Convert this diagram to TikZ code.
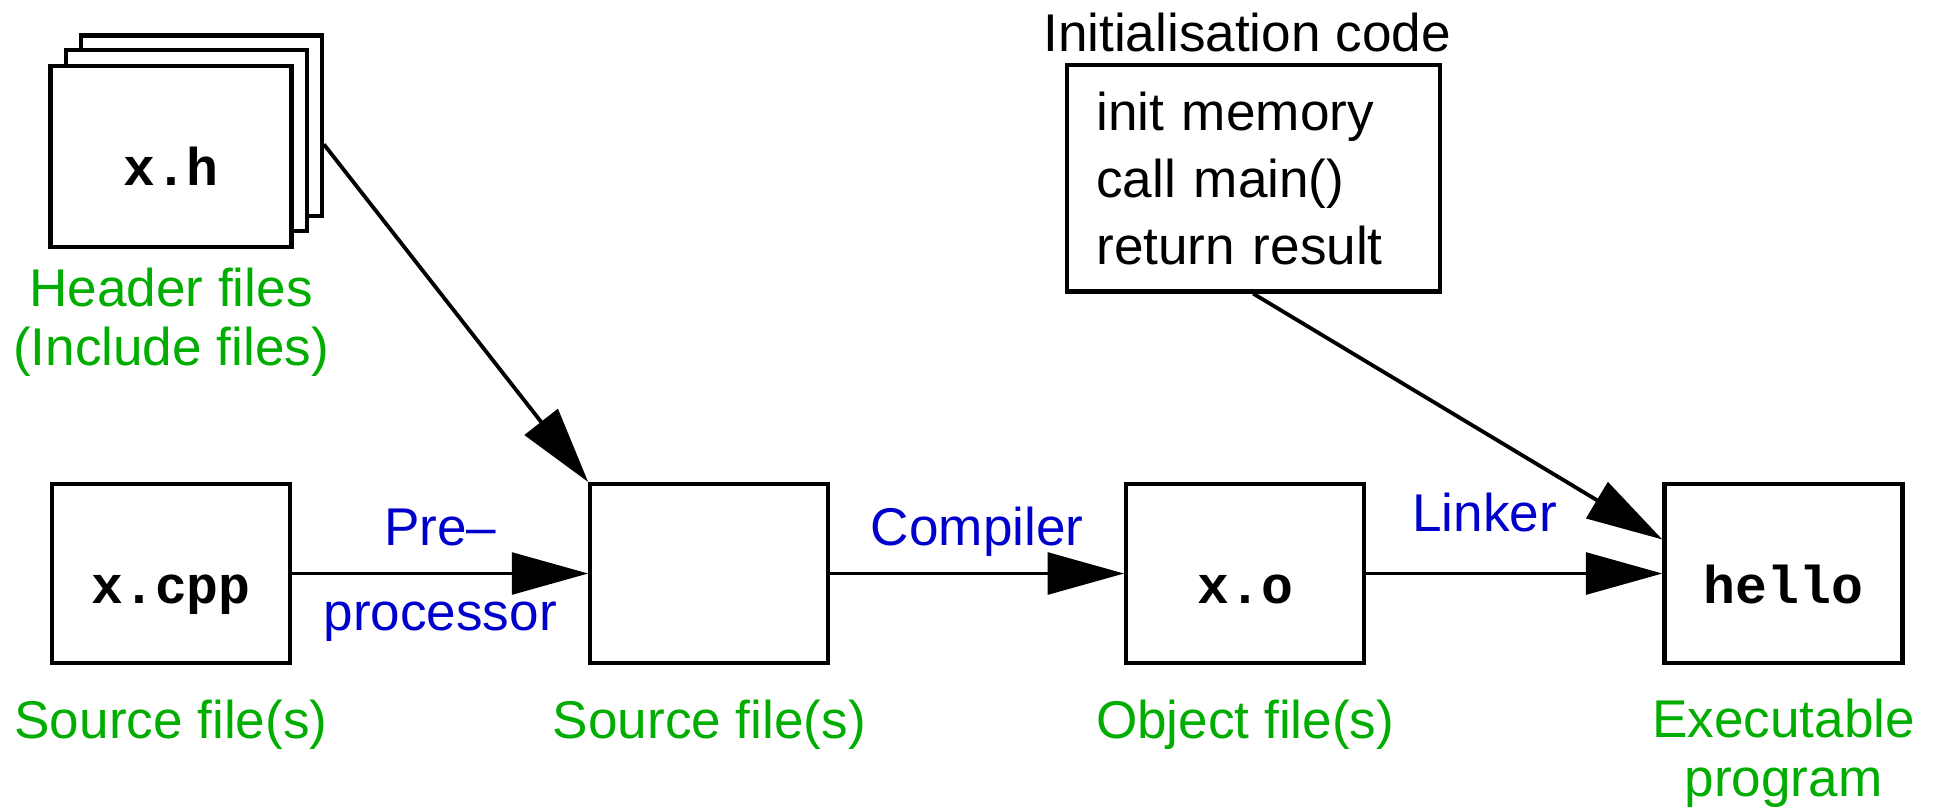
\documentclass[tikz,border=0pt]{standalone}
\usepackage{fontspec}
\setmainfont{Liberation Sans}
\newfontfamily\codefont{Liberation Mono}
\usetikzlibrary{arrows.meta}

\definecolor{lblgreen}{rgb}{0,0.68,0}
\definecolor{lblblue}{rgb}{0,0,0.8}

\begin{document}
\begin{tikzpicture}[x=0.0125cm, y=-0.0125cm, font=\fontsize{15.3}{17}\selectfont,
        filebox/.style={draw, line width=1.2pt, fill=white, inner sep=0pt,
            minimum width=2.41cm, minimum height=1.81cm,
            font=\fontsize{15.3}{17}\selectfont\codefont\bfseries,
            text height=17pt, text depth=0pt},
        hdrbox/.style={filebox, minimum width=2.44cm, minimum height=1.83cm},
        filelbl/.style={text=lblgreen, anchor=base, align=center},
        stage/.style={text=lblblue, anchor=base},
        flow/.style={line width=1.1pt, -{Triangle[length=22pt, width=12pt]}}]
            \useasboundingbox (0,0) rectangle (1568,657);

            % header files, stacked
            \node[hdrbox] (hback) at (163,102) {};
            \node[hdrbox] (hmid) at (151,114) {};
            \node[hdrbox] (hfront) at (138.5,126.5) {x.h};
            \node[filelbl] (hdrlbl) at (138.5,296) {Header files\\(Include files)};

            \node[filebox] (src0) at (138.5,464.5) {x.cpp};
            \node[filebox] (src) at (574.5,464.5) {};
            \node[filebox] (obj) at (1008.5,464.5) {x.o};
            \node[filebox] (exe) at (1444.5,464.5) {hello};

            \node[filelbl] (srclbl0) at (138.5,598) {Source file(s)};
            \node[filelbl] (srclbl) at (574.5,598) {Source file(s)};
            \node[filelbl] (objlbl) at (1008.5,598) {Object file(s)};
            \node[filelbl] (exelbl) at (1444.5,645) {Executable\\program};

            % startup code
            \node[draw, line width=1.2pt, minimum height=2.29cm, text width=3.175cm,
                inner xsep=0.3cm, inner ysep=0pt, align=left,
                font=\fontsize{15.3}{19.4}\selectfont] (init) at (1015,144.5)
                {init memory\\call main()\\return result};
            \node[anchor=base] (initlbl) at (1010,42) {Initialisation code};

            \draw[flow] (src0) -- node[stage, yshift=8.2pt] {Pre--}
                node[stage, yshift=-16.4pt] {processor} (src);
            \draw[flow] (src) -- node[stage, yshift=8.2pt] {Compiler} (obj);
            \draw[flow] (obj) -- node[stage, pos=0.4, yshift=12.1pt] {Linker} (exe);
            \draw[flow] ([yshift=-5.3pt]hback.east) -- (src.north west);
            \draw[flow] (init.south) -- ([yshift=9.8pt]exe.west);
\end{tikzpicture}
\end{document}
